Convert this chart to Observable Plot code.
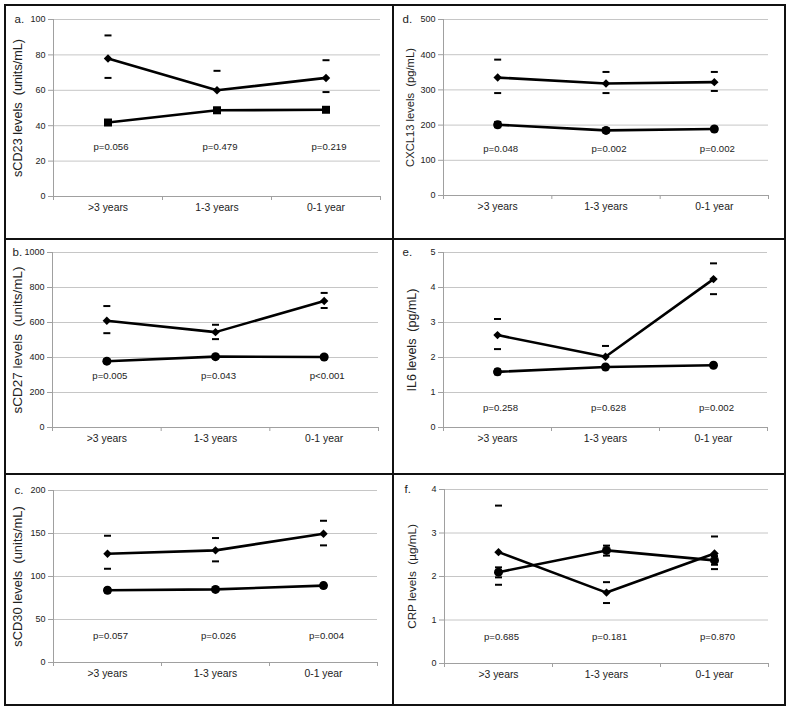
<!DOCTYPE html>
<html><head><meta charset="utf-8">
<script src="https://cdn.jsdelivr.net/npm/d3@7"></script>
<script src="https://cdn.jsdelivr.net/npm/@observablehq/plot@0.6"></script>
<style>
body{margin:0;background:#fff;font-family:"Liberation Sans",Arial,sans-serif;}
#wrap{position:relative;width:792px;height:716px;background:#fff;overflow:hidden}
.cell{position:absolute;box-sizing:border-box;border:2px solid #111;background:#fff}
.cell svg{display:block}
</style></head><body><div id="wrap"></div>
<script>
// ---------- data ----------
const categories = [">3 years", "1-3 years", "0-1 year"];
const panelIds = ["a.", "b.", "c.", "d.", "e.", "f."];
const yTitles = [
  "sCD23 levels\u00a0 (units/mL)",
  "sCD27 levels\u00a0 (units/mL)",
  "sCD30 levels\u00a0 (units/mL)",
  "CXCL13 levels\u00a0 (pg/mL)",
  "IL6 levels\u00a0 (pg/mL)",
  "CRP levels\u00a0 (\u00b5g/mL)"
];
const yMax = [100, 1000, 200, 500, 5, 4];
const yStep = [20, 200, 50, 100, 1, 1];
const pValues = [
  ["p=0.056", "p=0.479", "p=0.219"],
  ["p=0.005", "p=0.043", "p<0.001"],
  ["p=0.057", "p=0.026", "p=0.004"],
  ["p=0.048", "p=0.002", "p=0.002"],
  ["p=0.258", "p=0.628", "p=0.002"],
  ["p=0.685", "p=0.181", "p=0.870"]
];
const pLevel = [28, 296, 31, 131, 0.56, 0.61];
// upper series (diamonds)
const upperMean = [[78, 60, 67], [610, 545, 723], [126.5, 130.4, 149.7], [335, 318, 322], [2.64, 2.02, 4.24], [2.56, 1.63, 2.53]];
const upperHi   = [[91, 71, 77], [694, 587, 769], [147.4, 144.7, 164.8], [386, 351, 351], [3.10, 2.33, 4.69], [3.63, 1.87, 2.92]];
const upperLo   = [[67, 49, 59], [539, 505, 683], [109, 117.6, 136.2], [291, 291, 297], [2.24, 1.72, 3.81], [1.81, 1.39, 2.17]];
// lower series
const lowerMean = [[41.8, 48.7, 49], [379, 405, 403], [84, 85, 89.4], [201, 185, 189], [1.59, 1.73, 1.78], [2.10, 2.60, 2.37]];
const lowerHi   = [[43, 50.1, 50], [390, 415, 412], [86.5, 87, 91.5], [209, 191, 195], [1.66, 1.77, 1.82], [2.21, 2.71, 2.47]];
const lowerLo   = [[40.6, 47.4, 48], [368, 395, 394], [81.5, 83, 87.3], [194, 179, 183], [1.52, 1.69, 1.74], [1.98, 2.48, 2.27]];
const lowerSymbol = ["square", "circle", "circle", "circle", "circle", "circle"];

// ---------- layout ----------
const layout = [
  {left: 4,   top: 4,   w: 390, h: 236, mt: 13, mr: 12, mb: 42, ml: 47, tdx: -36, tfs: 12.7, ldx: 8},
  {left: 4,   top: 238, w: 390, h: 237, mt: 12, mr: 14, mb: 46, ml: 46, tdx: -35, tfs: 13.5, ldx: 6},
  {left: 4,   top: 473, w: 390, h: 233, mt: 15, mr: 15, mb: 42, ml: 47, tdx: -36, tfs: 12.9, ldx: 8},
  {left: 392, top: 4,   w: 394, h: 236, mt: 13, mr: 16, mb: 43, ml: 49, tdx: -33, tfs: 11.2, ldx: 8},
  {left: 392, top: 238, w: 394, h: 237, mt: 12, mr: 17, mb: 46, ml: 49, tdx: -32, tfs: 12.5, ldx: 8},
  {left: 392, top: 473, w: 394, h: 233, mt: 14, mr: 16, mb: 41, ml: 50, tdx: -32, tfs: 11.7, ldx: 10}
];

const dash = {draw(ctx, size) { const w = Math.sqrt(size / Math.PI); ctx.moveTo(-w, 0); ctx.lineTo(w, 0); }};
const FONT = '"Liberation Sans", Arial, sans-serif';
const AX = "#a0a0a0", GRID = "#c6c6c6", TXT = "#222";

function panel(i) {
  const L = layout[i];
  const up = categories.map((c, j) => ({x: j + 0.5, y: upperMean[i][j], hi: upperHi[i][j], lo: upperLo[i][j]}));
  const low = categories.map((c, j) => ({x: j + 0.5, y: lowerMean[i][j], hi: lowerHi[i][j], lo: lowerLo[i][j]}));
  const errs = [...up, ...low].flatMap(d => [{x: d.x, y: d.hi}, {x: d.x, y: d.lo}]);
  const ticks = d3.range(0, yMax[i] + yStep[i] / 2, yStep[i]);
  return Plot.plot({
    width: L.w - 4, height: L.h - 4,
    marginTop: L.mt, marginRight: L.mr, marginBottom: L.mb, marginLeft: L.ml,
    style: {fontFamily: FONT, background: "white", color: TXT},
    x: {type: "linear", domain: [0, categories.length]},
    y: {domain: [0, yMax[i]]},
    marks: [
      Plot.gridY(ticks, {stroke: GRID, strokeOpacity: 1}),
      Plot.ruleY([0], {stroke: AX}),
      Plot.ruleX([0], {stroke: AX}),
      Plot.axisY(ticks, {tickSize: 5, tickPadding: 3, tickFormat: d => String(d), stroke: AX, fill: TXT, fontSize: 9, label: null}),
      Plot.axisX(d3.range(0, categories.length + 1), {tickSize: 4, tickFormat: () => "", stroke: AX, label: null}),
      Plot.axisX(categories.map((c, j) => j + 0.5), {tickSize: 0, tickPadding: 7, tickFormat: d => categories[Math.floor(d)], fill: TXT, fontSize: 10.4, label: null}),
      Plot.text(pValues[i], {x: (d, j) => j + 0.5, y: () => pLevel[i], dx: 3, fontSize: 9.6, fill: TXT}),
      Plot.line(low, {x: "x", y: "y", stroke: "black", strokeWidth: 2.6}),
      Plot.line(up, {x: "x", y: "y", stroke: "black", strokeWidth: 2.6}),
      Plot.dot(errs, {x: "x", y: "y", symbol: dash, r: 3.5, stroke: "black", strokeWidth: 2, fill: "none"}),
      Plot.dot(low, {x: "x", y: "y", symbol: lowerSymbol[i], r: 4.5, fill: "black", stroke: "none"}),
      Plot.dot(up, {x: "x", y: "y", symbol: "diamond2", r: 3.8, fill: "black", stroke: "none"}),
      Plot.text([panelIds[i]], {frameAnchor: "top-left", dx: L.ldx - L.ml, textAnchor: "start", lineAnchor: "middle", fontSize: 11.5, fill: TXT}),
      Plot.text([yTitles[i]], {frameAnchor: "left", rotate: -90, dx: L.tdx, textAnchor: "middle", lineAnchor: "middle", fontSize: L.tfs, fill: TXT})
    ]
  });
}

const wrap = document.getElementById("wrap");
layout.forEach((L, i) => {
  const cell = document.createElement("div");
  cell.className = "cell";
  Object.assign(cell.style, {left: L.left + "px", top: L.top + "px", width: L.w + "px", height: L.h + "px"});
  cell.appendChild(panel(i));
  wrap.appendChild(cell);
});
</script></body></html>
